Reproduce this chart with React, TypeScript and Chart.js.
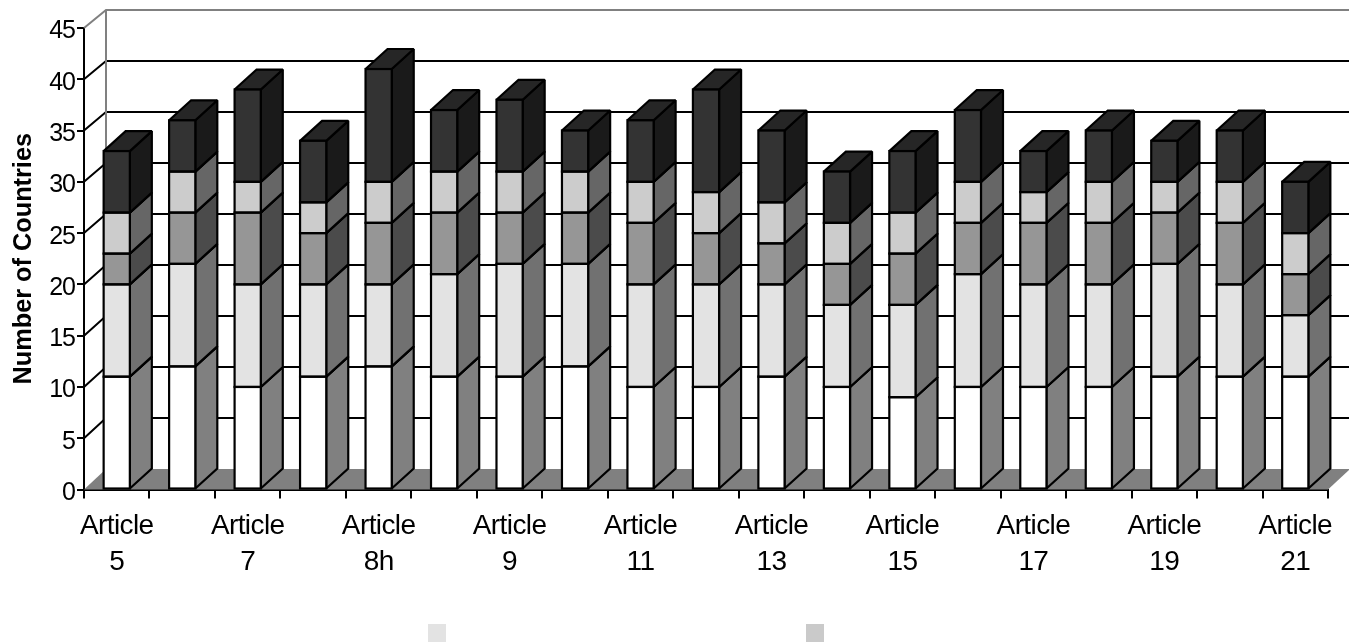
import React, { useEffect, useRef } from "react";
import { Chart, registerables } from "chart.js";

Chart.register(...registerables);

const categories = ["5", "6", "7", "8", "8h", "8j", "9", "10", "11", "12", "13", "14", "15", "16", "17", "18", "19", "20", "21"];
const yTicks = [0, 5, 10, 15, 20, 25, 30, 35, 40, 45];

const seriesA = [11, 12, 10, 11, 12, 11, 11, 12, 10, 10, 11, 10, 9, 10, 10, 10, 11, 11, 11];
const seriesB = [9, 10, 10, 9, 8, 10, 11, 10, 10, 10, 9, 8, 9, 11, 10, 10, 11, 9, 6];
const seriesC = [3, 5, 7, 5, 6, 6, 5, 5, 6, 5, 4, 4, 5, 5, 6, 6, 5, 6, 4];
const seriesD = [4, 4, 3, 3, 4, 4, 4, 4, 4, 4, 4, 4, 4, 4, 3, 4, 3, 4, 4];
const seriesE = [6, 5, 9, 6, 11, 6, 7, 4, 6, 10, 7, 5, 6, 7, 4, 5, 4, 5, 5];

const fronts = ["#ffffff", "#e3e3e3", "#969696", "#cccccc", "#333333"];
const sides = ["#808080", "#717171", "#4b4b4b", "#666666", "#1a1a1a"];
const tops = ["#c0c0c0", "#aaaaaa", "#707070", "#999999", "#262626"];

const DEPTH_X = 22;
const DEPTH_Y = 20;
const WALL_TOP = 10;
const WALL_BOTTOM = 469;
const EDGE = 2.2;

const polygon = (ctx: CanvasRenderingContext2D, pts: number[][], fill: string) => {
  ctx.beginPath();
  pts.forEach(([x, y], i) => (i ? ctx.lineTo(x, y) : ctx.moveTo(x, y)));
  ctx.closePath();
  ctx.fillStyle = fill;
  ctx.fill();
};

// Tightens the tick labels of one axis without touching its title.
const tightenLabels = (ctx: any, scale: any, spacing: string) => {
  const drawLabels = scale.drawLabels;
  scale.drawLabels = function (area: any) {
    ctx.letterSpacing = spacing;
    drawLabels.call(scale, area);
    ctx.letterSpacing = "0px";
  };
};

// Back wall, side wall and floor of the box behind the columns, plus the columns' depth faces.
const box3d = {
  id: "box3d",
  beforeDraw(chart: any) {
    tightenLabels(chart.ctx, chart.scales.x, "-0.6px");
    tightenLabels(chart.ctx, chart.scales.y, "-1px");
  },
  beforeDatasetsDraw(chart: any) {
    const { ctx } = chart;
    const { x, y } = chart.scales;
    const left = x.left;
    const right = x.right;
    const floor = y.getPixelForValue(0);
    const maxValue = yTicks[yTicks.length - 1];
    const wallY = (v: number) => WALL_BOTTOM - (v / maxValue) * (WALL_BOTTOM - WALL_TOP);
    ctx.save();

    // floor
    polygon(ctx, [[left, floor], [right, floor], [right + DEPTH_X, WALL_BOTTOM], [left + DEPTH_X, WALL_BOTTOM]], "#808080");

    // wall grid
    ctx.lineWidth = 2;
    yTicks.forEach((v) => {
      if (v === 0) return;
      ctx.strokeStyle = v === maxValue ? "#808080" : "#000000";
      ctx.beginPath();
      ctx.moveTo(left, y.getPixelForValue(v));
      ctx.lineTo(left + DEPTH_X, wallY(v));
      ctx.lineTo(right + DEPTH_X, wallY(v));
      ctx.stroke();
    });
    ctx.strokeStyle = "#808080";
    ctx.beginPath();
    ctx.moveTo(left + DEPTH_X, WALL_TOP);
    ctx.lineTo(left + DEPTH_X, WALL_BOTTOM);
    ctx.stroke();

    // depth faces of every stacked block
    ctx.strokeStyle = "#000000";
    ctx.lineWidth = EDGE;
    ctx.lineJoin = "miter";
    ctx.miterLimit = 2;
    chart.data.datasets.forEach((_: any, d: number) => {
      chart.getDatasetMeta(d).data.forEach((bar: any) => {
        const r = bar.x + bar.width / 2;
        const l = bar.x - bar.width / 2;
        polygon(ctx, [[r, bar.y], [r + DEPTH_X, bar.y - DEPTH_Y], [r + DEPTH_X, bar.base - DEPTH_Y], [r, bar.base]], sides[d]);
        ctx.stroke();
        polygon(ctx, [[l, bar.y], [l + DEPTH_X, bar.y - DEPTH_Y], [r + DEPTH_X, bar.y - DEPTH_Y], [r, bar.y]], tops[d]);
        ctx.stroke();
      });
    });
    ctx.restore();
  },
  afterDatasetsDraw(chart: any) {
    // outlines centred on the column edges, shared between neighbouring blocks
    const { ctx } = chart;
    ctx.save();
    ctx.strokeStyle = "#000000";
    ctx.lineWidth = EDGE;
    chart.data.datasets.forEach((_: any, d: number) => {
      chart.getDatasetMeta(d).data.forEach((bar: any) => {
        ctx.strokeRect(bar.x - bar.width / 2, bar.y, bar.width, bar.base - bar.y);
      });
    });
    ctx.restore();
  },
  afterDraw(chart: any) {
    // legend swatches along the bottom edge
    const { ctx } = chart;
    ctx.save();
    ctx.fillStyle = fronts[1];
    ctx.fillRect(428, 624, 18, 18);
    ctx.fillStyle = "#cacaca";
    ctx.fillRect(806, 624, 18, 18);
    ctx.restore();
  },
};

export default function App() {
  const ref = useRef<HTMLCanvasElement>(null);
  useEffect(() => {
    document.body.style.margin = "0";
    const series = [seriesA, seriesB, seriesC, seriesD, seriesE];
    const chart = new Chart(ref.current!, {
      type: "bar",
      data: {
        labels: categories,
        datasets: series.map((data, i) => ({
          label: `Series ${i + 1}`,
          data,
          backgroundColor: fronts[i],
          borderWidth: 0,
          barPercentage: 0.4,
          categoryPercentage: 1,
        })),
      },
      options: {
        responsive: false,
        animation: false,
        layout: { padding: { top: 28, right: 21, left: 0, bottom: 0 } },
        plugins: { legend: { display: false }, tooltip: { enabled: false } },
        scales: {
          x: {
            stacked: true,
            afterFit: (s: any) => { s.height = 152.5; },
            border: { color: "#000000", width: 2 },
            grid: { drawOnChartArea: false, drawTicks: true, tickLength: 9, color: "#000000", lineWidth: 2, offset: true },
            ticks: {
              autoSkip: false,
              maxRotation: 0,
              minRotation: 0,
              color: "#000000",
              padding: 10,
              font: { family: "Liberation Sans", size: 28, lineHeight: 1.28 },
              callback(_: any, i: number) {
                return i % 2 ? "" : ["Article", categories[i]];
              },
            },
          },
          y: {
            stacked: true,
            min: 0,
            max: 45,
            afterFit: (s: any) => { s.width = 84; },
            border: { color: "#000000", width: 2 },
            grid: { drawOnChartArea: false, drawTicks: true, tickLength: 7, color: "#000000", lineWidth: 2 },
            ticks: {
              stepSize: 5,
              color: "#000000",
              padding: 2,
              labelOffset: 3.5,
              font: { family: "Liberation Sans", size: 25 },
            },
            title: {
              display: true,
              text: "Number of Countries",
              color: "#000000",
              padding: { top: 9, bottom: 0 },
              font: { family: "Liberation Sans", size: 25.3, weight: "bold" },
            },
          },
        },
      },
      plugins: [box3d],
    } as any);
    return () => chart.destroy();
  }, []);
  return <canvas ref={ref} width={1349} height={642} style={{ display: "block" }} />;
}
